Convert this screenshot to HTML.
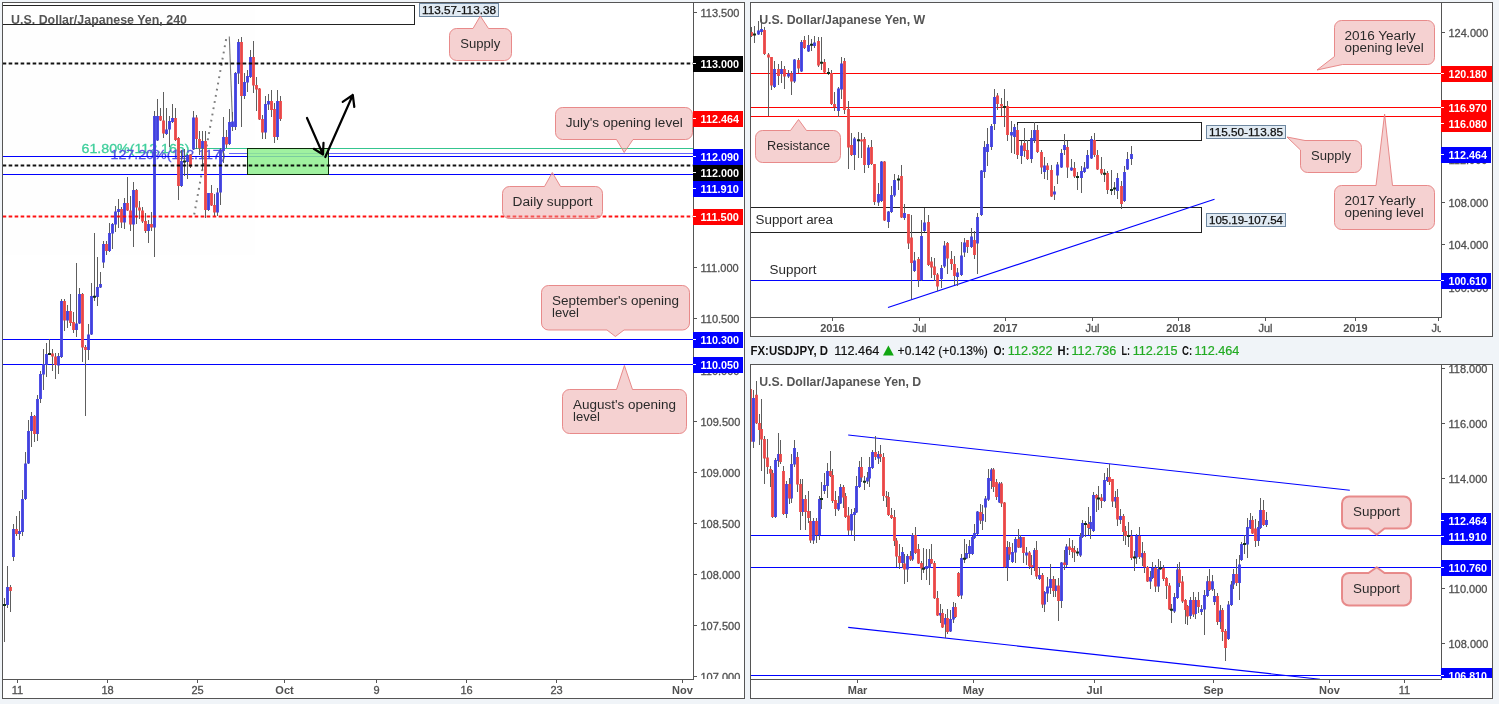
<!DOCTYPE html><html><head><meta charset="utf-8"><title>USDJPY</title>
<style>html,body{margin:0;padding:0;background:#f0f4f8;}svg{display:block;font-family:"Liberation Sans",sans-serif;opacity:0.9999;will-change:transform;}</style></head><body>
<svg width="1499" height="704" viewBox="0 0 1499 704" font-family="Liberation Sans, sans-serif">
<rect x="0" y="0" width="1499" height="704" fill="#f0f4f8"/>
<rect x="2.5" y="2.5" width="742" height="696" fill="#fff" stroke="#555555" stroke-width="1" shape-rendering="crispEdges"/>
<clipPath id="cl"><rect x="3" y="3" width="690" height="676"/></clipPath>
<clipPath id="cla"><rect x="693" y="3" width="51" height="676"/></clipPath>
<g clip-path="url(#cl)">
<rect x="2.5" y="5.5" width="412" height="19" fill="none" stroke="#222" stroke-width="1" shape-rendering="crispEdges"/>
<text x="81.5" y="152.7" font-size="12" fill="#3fcf9c" text-anchor="start" textLength="108" lengthAdjust="spacingAndGlyphs" stroke="#3fcf9c" stroke-width="0.3">61.80%(112.166)</text>
<text x="110.5" y="158.8" font-size="12" fill="#5555e2" text-anchor="start" textLength="115" lengthAdjust="spacingAndGlyphs" stroke="#5555e2" stroke-width="0.3">127.20%(112.117)</text>
<line x1="194" y1="148.5" x2="693" y2="148.5" stroke="#34c58f" stroke-width="1" shape-rendering="crispEdges"/>
<line x1="229" y1="153.5" x2="693" y2="153.5" stroke="#3030ff" stroke-width="1" shape-rendering="crispEdges" stroke-opacity="0.75"/>
<line x1="2" y1="156.5" x2="693" y2="156.5" stroke="#0000ff" stroke-width="1" shape-rendering="crispEdges"/>
<line x1="2" y1="174.5" x2="693" y2="174.5" stroke="#0000ff" stroke-width="1" shape-rendering="crispEdges"/>
<line x1="2" y1="339.5" x2="693" y2="339.5" stroke="#0000ff" stroke-width="1" shape-rendering="crispEdges"/>
<line x1="2" y1="364.5" x2="693" y2="364.5" stroke="#0000ff" stroke-width="1" shape-rendering="crispEdges"/>
<rect x="247.5" y="148.5" width="81" height="26" fill="#8ff08f" fill-opacity="0.85" stroke="#0a2a0a" stroke-width="1" shape-rendering="crispEdges"/>
<line x1="194.2" y1="214.5" x2="226.6" y2="36.5" stroke="#7c7c7c" stroke-width="2" stroke-dasharray="1.8 4.5" stroke-linecap="butt"/>
<line x1="229.3" y1="36.5" x2="232.6" y2="125" stroke="#777" stroke-width="1.1"/>
<path d="M4.5 598V642M7.5 566V607.5M10.5 585V611.5M13.5 524V561M16.5 516V536M19.5 511V540M22.5 490V536M25.5 452V500M28.5 420V464M31.5 412V447M34.5 415V442M37.5 395V441M40.5 370.5V402.5M43.5 349V390M46.5 343V376.5M49.5 339V355M52.5 349V371M55.5 352.5V379M58.5 352.5V374M61.5 298.5V358M64.5 299V331M67.5 305V327.5M70.5 294V326M73.5 311.5V333M76.5 263V336.5M79.5 288V324M82.5 293V362M85.5 345V416M88.5 324V359.5M91.5 283V335M94.5 233V301M97.5 257V305.5M100.5 272V288M103.5 241V267.5M106.5 241V255M109.5 223V252M112.5 223V248.5M115.5 206V232M118.5 199V227.5M121.5 207V228M124.5 198V228.5M127.5 177V211M130.5 196V231M133.5 182V246.5M136.5 189V223.5M139.5 201V218.5M142.5 207V223M145.5 213V232.5M148.5 219.5V242.5M151.5 212V231M154.5 111V256.5M157.5 99V141M160.5 107.5V121M163.5 92V138M166.5 108V135M169.5 115.5V147M172.5 104V122.5M175.5 107.5V140.5M178.5 137V199.5M181.5 149.5V186.5M184.5 148.5V175.5M187.5 154V179M190.5 154V168M193.5 111V150M196.5 115V148.5M199.5 131V154.5M202.5 131V170M205.5 131V217.5M208.5 192.5V210.5M211.5 185V206M214.5 194V215.5M217.5 188V215.5M220.5 148V205M223.5 117V163M226.5 130V148M229.5 109V145M232.5 112V130.5M235.5 72V130M238.5 38.5V84M241.5 36.5V127M244.5 73V99M247.5 70V91.5M250.5 50V77.5M253.5 41V93M256.5 77V111M259.5 88V120M262.5 114.5V139M265.5 96V139M268.5 93.5V110M271.5 89.5V117M274.5 103V143M277.5 89.5V140M280.5 96V121" stroke="#5e5e5e" stroke-width="1" fill="none" shape-rendering="crispEdges"/><path d="M6 587h3v18h-3zM12 529h3v28h-3zM18 531h3v3h-3zM21 499h3v33h-3zM24 463.5h3v35.5h-3zM27 431h3v32.5h-3zM30 416h3v15h-3zM36 399h3v35h-3zM39 374h3v25h-3zM42 364h3v10.5h-3zM45 354h3v11h-3zM57 356h3v9.5h-3zM60 301h3v56h-3zM66 311h3v9.5h-3zM75 323.5h3v6.5h-3zM78 294h3v29.5h-3zM87 334.5h3v15.5h-3zM90 296h3v38.5h-3zM96 287h3v10h-3zM99 284h3v3.5h-3zM102 244h3v18.5h-3zM108 233h3v18h-3zM111 224h3v9.5h-3zM114 211.5h3v13h-3zM117 209h3v3h-3zM123 203h3v19.5h-3zM132 190h3v34.5h-3zM147 224h3v7h-3zM153 116h3v111.5h-3zM156 116h3v24.5h-3zM165 129.5h3v4.5h-3zM168 121h3v8.5h-3zM171 118h3v4h-3zM180 161h3v25h-3zM186 155h3v7h-3zM192 117.5h3v32h-3zM201 141h3v7.5h-3zM207 193h3v17h-3zM216 192.5h3v20h-3zM219 149.5h3v43h-3zM222 137h3v14h-3zM228 122h3v22h-3zM231 121.5h3v5.5h-3zM234 73h3v54h-3zM237 42h3v31.5h-3zM243 82h3v14h-3zM246 76h3v6.5h-3zM249 57h3v20h-3zM264 104h3v28.5h-3zM267 101h3v3.5h-3zM276 101h3v36h-3z" fill="#4040e4" fill-opacity="0.92"/><path d="M9 587h3v4h-3zM15 529h3v5h-3zM33 416h3v18h-3zM51 353.5h3v3h-3zM54 356.5h3v8.5h-3zM63 301h3v19.5h-3zM69 311h3v12h-3zM72 322h3v8h-3zM81 294h3v53.5h-3zM84 347h3v3h-3zM105 244h3v7h-3zM120 209h3v13.5h-3zM126 203h3v7.5h-3zM129 210.5h3v14h-3zM135 190h3v17.5h-3zM138 207.5h3v3h-3zM141 210.5h3v11h-3zM144 221h3v10h-3zM150 224h3v3.5h-3zM159 116h3v4.5h-3zM162 120.5h3v13h-3zM174 118h3v22h-3zM177 138h3v48h-3zM189 154.5h3v12h-3zM195 117.5h3v21.5h-3zM198 139h3v9.5h-3zM204 141h3v69h-3zM210 193h3v12.5h-3zM213 205h3v7.5h-3zM225 137h3v7.5h-3zM240 42h3v54h-3zM252 57h3v28.5h-3zM255 85h3v4.5h-3zM258 88.5h3v31h-3zM261 119h3v13.5h-3zM270 101h3v9h-3zM273 109h3v28h-3zM279 101h3v18h-3z" fill="#f04848" fill-opacity="0.92"/><path d="M3 604h3v2h-3zM48 353h3v2h-3zM93 295.8h3v2h-3zM183 160.5h3v2h-3z" fill="#12301a"/>
<line x1="2.65" y1="63.45" x2="693" y2="63.45" stroke="#000" stroke-width="2" stroke-dasharray="3.6 2.4" stroke-opacity="0.93"/>
<line x1="2.65" y1="165.45" x2="693" y2="165.45" stroke="#000" stroke-width="2" stroke-dasharray="3.6 2.4" stroke-opacity="0.93"/>
<line x1="2.65" y1="216.4" x2="693" y2="216.4" stroke="#ff0000" stroke-width="2" stroke-dasharray="3.6 2.4" stroke-opacity="0.93"/>
<g stroke="#000" stroke-width="2.2" fill="none" stroke-linecap="round" stroke-linejoin="round">
<path d="M307 118 L323 154.5 M313.8 148.8 L323 154.5 L323.5 142.8"/>
<path d="M325.3 157 L352.8 95 M342.7 101.8 L352.8 95 L354.3 107"/>
</g>
</g>
<rect x="693" y="2" width="1" height="678" fill="#555555"/>
<rect x="2" y="679" width="692" height="1" fill="#555555"/>
<g clip-path="url(#cla)">
<rect x="694" y="12" width="3" height="1" fill="#555555"/><text x="700.5" y="17" font-size="11" fill="#505050" text-anchor="start" stroke="#505050" stroke-width="0.3">113.500</text>
<rect x="694" y="63" width="3" height="1" fill="#555555"/><text x="700.5" y="68" font-size="11" fill="#505050" text-anchor="start" stroke="#505050" stroke-width="0.3">113.000</text>
<rect x="694" y="165" width="3" height="1" fill="#555555"/><text x="700.5" y="170" font-size="11" fill="#505050" text-anchor="start" stroke="#505050" stroke-width="0.3">112.000</text>
<rect x="694" y="216" width="3" height="1" fill="#555555"/><text x="700.5" y="221" font-size="11" fill="#505050" text-anchor="start" stroke="#505050" stroke-width="0.3">111.500</text>
<rect x="694" y="267" width="3" height="1" fill="#555555"/><text x="700.5" y="272" font-size="11" fill="#505050" text-anchor="start" stroke="#505050" stroke-width="0.3">111.000</text>
<rect x="694" y="318" width="3" height="1" fill="#555555"/><text x="700.5" y="323" font-size="11" fill="#505050" text-anchor="start" stroke="#505050" stroke-width="0.3">110.500</text>
<rect x="694" y="370" width="3" height="1" fill="#555555"/><text x="700.5" y="375" font-size="11" fill="#505050" text-anchor="start" stroke="#505050" stroke-width="0.3">110.000</text>
<rect x="694" y="421" width="3" height="1" fill="#555555"/><text x="700.5" y="426" font-size="11" fill="#505050" text-anchor="start" stroke="#505050" stroke-width="0.3">109.500</text>
<rect x="694" y="472" width="3" height="1" fill="#555555"/><text x="700.5" y="477" font-size="11" fill="#505050" text-anchor="start" stroke="#505050" stroke-width="0.3">109.000</text>
<rect x="694" y="523" width="3" height="1" fill="#555555"/><text x="700.5" y="528" font-size="11" fill="#505050" text-anchor="start" stroke="#505050" stroke-width="0.3">108.500</text>
<rect x="694" y="574" width="3" height="1" fill="#555555"/><text x="700.5" y="579" font-size="11" fill="#505050" text-anchor="start" stroke="#505050" stroke-width="0.3">108.000</text>
<rect x="694" y="625" width="3" height="1" fill="#555555"/><text x="700.5" y="630" font-size="11" fill="#505050" text-anchor="start" stroke="#505050" stroke-width="0.3">107.500</text>
<rect x="694" y="676" width="3" height="1" fill="#555555"/><text x="700.5" y="681" font-size="11" fill="#505050" text-anchor="start" stroke="#505050" stroke-width="0.3">107.000</text>
<rect x="693" y="56" width="50" height="16" fill="#000"/><rect x="693" y="63" width="3" height="1" fill="#fff"/><text x="700.5" y="68" font-size="11" fill="#fff" font-weight="bold" text-anchor="start" textLength="38.4" lengthAdjust="spacingAndGlyphs" >113.000</text>
<rect x="693" y="111" width="50" height="16" fill="#ff0000"/><rect x="693" y="118" width="3" height="1" fill="#fff"/><text x="700.5" y="123" font-size="11" fill="#fff" font-weight="bold" text-anchor="start" textLength="38.4" lengthAdjust="spacingAndGlyphs" >112.464</text>
<rect x="693" y="149" width="50" height="16" fill="#0000ff"/><rect x="693" y="156" width="3" height="1" fill="#fff"/><text x="700.5" y="161" font-size="11" fill="#fff" font-weight="bold" text-anchor="start" textLength="38.4" lengthAdjust="spacingAndGlyphs" >112.090</text>
<rect x="693" y="165" width="50" height="16" fill="#000"/><rect x="693" y="172" width="3" height="1" fill="#fff"/><text x="700.5" y="177" font-size="11" fill="#fff" font-weight="bold" text-anchor="start" textLength="38.4" lengthAdjust="spacingAndGlyphs" >112.000</text>
<rect x="693" y="181" width="50" height="16" fill="#0000ff"/><rect x="693" y="188" width="3" height="1" fill="#fff"/><text x="700.5" y="193" font-size="11" fill="#fff" font-weight="bold" text-anchor="start" textLength="38.4" lengthAdjust="spacingAndGlyphs" >111.910</text>
<rect x="693" y="209" width="50" height="16" fill="#ff0000"/><rect x="693" y="216" width="3" height="1" fill="#fff"/><text x="700.5" y="221" font-size="11" fill="#fff" font-weight="bold" text-anchor="start" textLength="38.4" lengthAdjust="spacingAndGlyphs" >111.500</text>
<rect x="693" y="332" width="50" height="16" fill="#0000ff"/><rect x="693" y="339" width="3" height="1" fill="#fff"/><text x="700.5" y="344" font-size="11" fill="#fff" font-weight="bold" text-anchor="start" textLength="38.4" lengthAdjust="spacingAndGlyphs" >110.300</text>
<rect x="693" y="357" width="50" height="16" fill="#0000ff"/><rect x="693" y="364" width="3" height="1" fill="#fff"/><text x="700.5" y="369" font-size="11" fill="#fff" font-weight="bold" text-anchor="start" textLength="38.4" lengthAdjust="spacingAndGlyphs" >110.050</text>
</g>
<rect x="17" y="680" width="1" height="3" fill="#555555"/>
<text x="17.5" y="693.6" font-size="11" fill="#505050" text-anchor="middle" stroke="#505050" stroke-width="0.3">11</text>
<rect x="107" y="680" width="1" height="3" fill="#555555"/>
<text x="107.5" y="693.6" font-size="11" fill="#505050" text-anchor="middle" stroke="#505050" stroke-width="0.3">18</text>
<rect x="197" y="680" width="1" height="3" fill="#555555"/>
<text x="197.5" y="693.6" font-size="11" fill="#505050" text-anchor="middle" stroke="#505050" stroke-width="0.3">25</text>
<rect x="284" y="680" width="1" height="3" fill="#555555"/>
<text x="284.5" y="693.6" font-size="11" fill="#505050" font-weight="bold" text-anchor="middle" >Oct</text>
<rect x="376" y="680" width="1" height="3" fill="#555555"/>
<text x="376.5" y="693.6" font-size="11" fill="#505050" text-anchor="middle" stroke="#505050" stroke-width="0.3">9</text>
<rect x="466" y="680" width="1" height="3" fill="#555555"/>
<text x="466.5" y="693.6" font-size="11" fill="#505050" text-anchor="middle" stroke="#505050" stroke-width="0.3">16</text>
<rect x="556" y="680" width="1" height="3" fill="#555555"/>
<text x="556.5" y="693.6" font-size="11" fill="#505050" text-anchor="middle" stroke="#505050" stroke-width="0.3">23</text>
<rect x="682" y="680" width="1" height="3" fill="#555555"/>
<text x="682.5" y="693.6" font-size="11" fill="#505050" font-weight="bold" text-anchor="middle" >Nov</text>
<text x="11" y="23.5" font-size="12.5" fill="#555" font-weight="bold" text-anchor="start" textLength="176" lengthAdjust="spacingAndGlyphs" >U.S. Dollar/Japanese Yen, 240</text>
<rect x="419.5" y="3.5" width="79" height="13" fill="#e0eaf3" stroke="#6e87a0" stroke-width="1" shape-rendering="crispEdges"/><text x="422" y="13.6" font-size="10" fill="#111" text-anchor="start" textLength="74" lengthAdjust="spacingAndGlyphs" stroke="#111" stroke-width="0.25">113.57-113.38</text>
<path d="M456.5 28.5H473 L480.3 16 L488.5 28.5H504.5 A7 7 0 0 1 511.5 35.5V53.5 A7 7 0 0 1 504.5 60.5H456.5 A7 7 0 0 1 449.5 53.5V35.5 A7 7 0 0 1 456.5 28.5 Z" fill="#ea9f9f" fill-opacity="0.48" stroke="#e67f7f" stroke-opacity="0.9" stroke-width="1" stroke-linejoin="round"/><text x="460.3" y="48" font-size="12" fill="#2a2a2a" text-anchor="start" textLength="40" lengthAdjust="spacingAndGlyphs" >Supply</text>
<path d="M562.5 107.5H685.5 A7 7 0 0 1 692.5 114.5V132.5 A7 7 0 0 1 685.5 139.5H633 L624.2 152.5 L616.5 139.5H562.5 A7 7 0 0 1 555.5 132.5V114.5 A7 7 0 0 1 562.5 107.5 Z" fill="#ea9f9f" fill-opacity="0.48" stroke="#e67f7f" stroke-opacity="0.9" stroke-width="1" stroke-linejoin="round"/><text x="565.7" y="127.3" font-size="12" fill="#2a2a2a" text-anchor="start" textLength="117" lengthAdjust="spacingAndGlyphs" >July's opening level</text>
<path d="M509.5 186.5H544.5 L552.3 172.5 L560.5 186.5H595.5 A7 7 0 0 1 602.5 193.5V211.5 A7 7 0 0 1 595.5 218.5H509.5 A7 7 0 0 1 502.5 211.5V193.5 A7 7 0 0 1 509.5 186.5 Z" fill="#ea9f9f" fill-opacity="0.48" stroke="#e67f7f" stroke-opacity="0.9" stroke-width="1" stroke-linejoin="round"/><text x="512.6" y="206" font-size="12" fill="#2a2a2a" text-anchor="start" textLength="80" lengthAdjust="spacingAndGlyphs" >Daily support</text>
<path d="M548.5 285.5H682.5 A7 7 0 0 1 689.5 292.5V323 A7 7 0 0 1 682.5 330H624 L615.4 336.5 L607 330H548.5 A7 7 0 0 1 541.5 323V292.5 A7 7 0 0 1 548.5 285.5 Z" fill="#ea9f9f" fill-opacity="0.48" stroke="#e67f7f" stroke-opacity="0.9" stroke-width="1" stroke-linejoin="round"/><text x="552" y="304.5" font-size="12" fill="#2a2a2a" text-anchor="start" textLength="127" lengthAdjust="spacingAndGlyphs" >September's opening</text><text x="552" y="316.5" font-size="12" fill="#2a2a2a" text-anchor="start" textLength="27" lengthAdjust="spacingAndGlyphs" >level</text>
<path d="M569.5 389.5H616.5 L624.4 365.5 L632.5 389.5H679.5 A7 7 0 0 1 686.5 396.5V426.5 A7 7 0 0 1 679.5 433.5H569.5 A7 7 0 0 1 562.5 426.5V396.5 A7 7 0 0 1 569.5 389.5 Z" fill="#ea9f9f" fill-opacity="0.48" stroke="#e67f7f" stroke-opacity="0.9" stroke-width="1" stroke-linejoin="round"/><text x="573" y="408.5" font-size="12" fill="#2a2a2a" text-anchor="start" textLength="103" lengthAdjust="spacingAndGlyphs" >August's opening</text><text x="573" y="420.5" font-size="12" fill="#2a2a2a" text-anchor="start" textLength="27" lengthAdjust="spacingAndGlyphs" >level</text>
<rect x="750.5" y="2.5" width="742" height="334" fill="#fff" stroke="#555555" stroke-width="1" shape-rendering="crispEdges"/>
<clipPath id="cw"><rect x="751" y="3" width="690" height="314"/></clipPath>
<clipPath id="cwa"><rect x="1441" y="3" width="52" height="314"/></clipPath>
<g clip-path="url(#cw)">
<line x1="750" y1="73.5" x2="1441" y2="73.5" stroke="#ff0000" stroke-width="1" shape-rendering="crispEdges"/>
<line x1="750" y1="107.5" x2="1441" y2="107.5" stroke="#ff0000" stroke-width="1" shape-rendering="crispEdges"/>
<line x1="750" y1="116.5" x2="1441" y2="116.5" stroke="#ff0000" stroke-width="1" shape-rendering="crispEdges"/>
<line x1="750" y1="280.5" x2="1441" y2="280.5" stroke="#0000ff" stroke-width="1" shape-rendering="crispEdges"/>
<rect x="1017.5" y="122.5" width="184" height="18" fill="none" stroke="#222" stroke-width="1" shape-rendering="crispEdges"/>
<rect x="749.5" y="207.5" width="452" height="25" fill="none" stroke="#222" stroke-width="1" shape-rendering="crispEdges"/>
<line x1="888" y1="307.5" x2="1214.5" y2="199.3" stroke="#0000ff" stroke-width="1.15"/>
<path d="M751.5 27V37M754.5 26V42.6M758.5 21V35M761.5 19V35M764.5 27V55M768.5 52.5V115.5M771.5 56.5V90M774.5 61V87.5M778.5 64V84.5M781.5 61V83M784.5 65.5V89M788.5 69.5V78M791.5 71V95M794.5 59V82.5M798.5 58V72.5M801.5 39.5V72M804.5 36V48.5M808.5 35V52M811.5 38.5V50.5M814.5 36V47.5M818.5 37V67M821.5 37V70M824.5 59V73M828.5 68V75M831.5 70V105M834.5 92V111M838.5 87V116.5M841.5 57V99M844.5 58V113.5M848.5 101V169M851.5 132.5V155.5M854.5 137V170M858.5 132V158M861.5 132.5V157.5M864.5 137V173M868.5 144.5V167.5M871.5 140V164.5M874.5 163.5V204.5M878.5 183V205.5M881.5 161V202M884.5 161V221M888.5 211V228M891.5 185.5V213M894.5 174V196.5M898.5 174.5V190M901.5 165V218M904.5 203.5V220M908.5 213.5V249M911.5 214.5V299M914.5 251.5V272M918.5 257V287M921.5 220V281M924.5 207.5V231.5M928.5 214.5V265.5M931.5 257V278M934.5 258V281M937.5 272.5V290.5M941.5 265V288M944.5 241V267.5M947.5 242V273.5M951.5 251V270M954.5 256V284.5M957.5 267.5V286M961.5 241.5V275.5M964.5 237.5V257M967.5 239.5V253M971.5 228V248M974.5 231V259M977.5 213V273.5M981.5 170V215.5M984.5 140.5V178M987.5 128V165.5M991.5 123.5V150M994.5 88.5V129.5M997.5 93V110M1001.5 98V116M1004.5 88.5V127M1007.5 100.5V141M1011.5 121V152.5M1014.5 123.5V153.5M1017.5 124.5V159M1021.5 140.5V164M1024.5 128V157M1027.5 140V160M1031.5 130V162.5M1034.5 121.5V143M1037.5 124.5V152.5M1041.5 150V173.5M1044.5 157V179M1047.5 163V180M1051.5 164.5V197M1054.5 186V200M1057.5 162V184M1061.5 149V168M1064.5 134V155M1067.5 140.5V178M1071.5 158.5V171M1074.5 162V178M1077.5 172V190M1081.5 165.5V193M1084.5 162V172.5M1087.5 150V169M1091.5 136V159M1094.5 133V157M1097.5 150V170M1101.5 157V175M1104.5 169V182M1107.5 170.5V194M1111.5 170V195M1114.5 182V195M1117.5 173V199M1121.5 181V209M1124.5 166V201.5M1127.5 152V170M1131.5 146V165" stroke="#5e5e5e" stroke-width="1" fill="none" shape-rendering="crispEdges"/><path d="M757 30.5h3v4h-3zM760 29h3v3h-3zM773 69h3v18h-3zM780 69h3v5h-3zM787 73.5h3v3h-3zM793 59.5h3v22h-3zM800 42h3v29.5h-3zM807 45h3v6.5h-3zM813 42.5h3v3.5h-3zM837 88.5h3v22.5h-3zM840 63.5h3v26h-3zM853 138.5h3v16.5h-3zM867 147.5h3v17.5h-3zM877 194h3v8.5h-3zM880 161.5h3v39.5h-3zM887 211.5h3v10.5h-3zM890 195h3v17h-3zM893 180h3v15.5h-3zM903 213h3v5h-3zM913 260.5h3v10.5h-3zM920 236h3v44h-3zM923 222.5h3v8.5h-3zM940 268h3v11h-3zM943 245.5h3v21h-3zM956 272.5h3v4.5h-3zM960 255.5h3v19.5h-3zM963 242.5h3v10h-3zM970 236.5h3v10.5h-3zM976 217h3v26.5h-3zM980 170.5h3v44.5h-3zM983 147h3v25h-3zM986 144h3v8h-3zM990 126h3v21h-3zM993 97h3v27h-3zM1010 132h3v3.5h-3zM1013 127h3v10h-3zM1020 145.5h3v10.5h-3zM1030 138h3v21h-3zM1033 130h3v10.5h-3zM1043 165.5h3v6.5h-3zM1053 191.5h3v3h-3zM1056 164.5h3v11h-3zM1060 153h3v14.5h-3zM1063 145h3v5h-3zM1070 167.5h3v3h-3zM1080 171h3v7h-3zM1083 167.5h3v4.5h-3zM1086 155h3v13.5h-3zM1090 139h3v19.5h-3zM1116 178h3v13h-3zM1123 172h3v29h-3zM1126 159h3v10.5h-3zM1130 154h3v5h-3z" fill="#4040e4" fill-opacity="0.92"/><path d="M750 32h3v4h-3zM763 30h3v24h-3zM767 54.5h3v3h-3zM770 57h3v28.5h-3zM777 69h3v7h-3zM783 69h3v7.5h-3zM790 73.5h3v8h-3zM797 60h3v8.5h-3zM803 40h3v8h-3zM817 41h3v24.5h-3zM823 62h3v10.5h-3zM830 73h3v31h-3zM833 104h3v3h-3zM843 61h3v49h-3zM847 109h3v38.5h-3zM850 145h3v10h-3zM860 139.5h3v2h-3zM863 139h3v26h-3zM870 147h3v17h-3zM873 164h3v38h-3zM883 161.5h3v59h-3zM900 176h3v41.5h-3zM907 214h3v29.5h-3zM910 237.5h3v25.5h-3zM917 259h3v21h-3zM927 222h3v43h-3zM930 261.5h3v6h-3zM933 266.5h3v8.5h-3zM936 274.5h3v12h-3zM946 243h3v15.5h-3zM950 259h3v5h-3zM953 264h3v12h-3zM966 240h3v7h-3zM973 240h3v15h-3zM996 95.5h3v8.5h-3zM1000 104h3v2.5h-3zM1006 106h3v29h-3zM1016 130h3v25h-3zM1023 143h3v8h-3zM1026 150h3v9h-3zM1036 130h3v22h-3zM1040 152h3v15.5h-3zM1046 165.5h3v4.5h-3zM1050 170h3v26.5h-3zM1066 147h3v20.5h-3zM1073 168h3v8.5h-3zM1093 140h3v15h-3zM1096 155h3v14.5h-3zM1100 169h3v4.5h-3zM1106 173h3v17h-3zM1120 186h3v18h-3z" fill="#f04848" fill-opacity="0.92"/><path d="M753 33.5h3v2h-3zM810 43.8h3v2h-3zM820 61.7h3v2h-3zM827 72h3v2h-3zM857 139.3h3v2h-3zM897 178.5h3v2h-3zM1003 106h3v2h-3zM1076 176h3v2h-3zM1103 172.7h3v2h-3zM1110 188.9h3v2h-3zM1113 187.5h3v2h-3z" fill="#12301a"/>
</g>
<rect x="1441" y="2" width="1" height="316" fill="#555555"/>
<rect x="750" y="317" width="692" height="1" fill="#555555"/>
<g clip-path="url(#cwa)">
<rect x="1442" y="32" width="3" height="1" fill="#555555"/><text x="1448.5" y="37" font-size="11" fill="#505050" text-anchor="start" stroke="#505050" stroke-width="0.3">124.000</text>
<rect x="1442" y="74" width="3" height="1" fill="#555555"/><text x="1448.5" y="79" font-size="11" fill="#505050" text-anchor="start" stroke="#505050" stroke-width="0.3">120.000</text>
<rect x="1442" y="117" width="3" height="1" fill="#555555"/><text x="1448.5" y="122" font-size="11" fill="#505050" text-anchor="start" stroke="#505050" stroke-width="0.3">116.000</text>
<rect x="1442" y="159" width="3" height="1" fill="#555555"/><text x="1448.5" y="164" font-size="11" fill="#505050" text-anchor="start" stroke="#505050" stroke-width="0.3">112.000</text>
<rect x="1442" y="202" width="3" height="1" fill="#555555"/><text x="1448.5" y="207" font-size="11" fill="#505050" text-anchor="start" stroke="#505050" stroke-width="0.3">108.000</text>
<rect x="1442" y="244" width="3" height="1" fill="#555555"/><text x="1448.5" y="249" font-size="11" fill="#505050" text-anchor="start" stroke="#505050" stroke-width="0.3">104.000</text>
<rect x="1442" y="287" width="3" height="1" fill="#555555"/><text x="1448.5" y="292" font-size="11" fill="#505050" text-anchor="start" stroke="#505050" stroke-width="0.3">100.000</text>
<rect x="1441" y="66" width="51" height="16" fill="#ff0000"/><rect x="1441" y="73" width="3" height="1" fill="#fff"/><text x="1448.5" y="78" font-size="11" fill="#fff" font-weight="bold" text-anchor="start" textLength="38.4" lengthAdjust="spacingAndGlyphs" >120.180</text>
<rect x="1441" y="100" width="50" height="16" fill="#ff0000"/><rect x="1441" y="107" width="3" height="1" fill="#fff"/><text x="1448.5" y="112" font-size="11" fill="#fff" font-weight="bold" text-anchor="start" textLength="38.4" lengthAdjust="spacingAndGlyphs" >116.970</text>
<rect x="1441" y="116" width="50" height="16" fill="#ff0000"/><rect x="1441" y="123" width="3" height="1" fill="#fff"/><text x="1448.5" y="128" font-size="11" fill="#fff" font-weight="bold" text-anchor="start" textLength="38.4" lengthAdjust="spacingAndGlyphs" >116.080</text>
<rect x="1441" y="147" width="50" height="16" fill="#0000ff"/><rect x="1441" y="154" width="3" height="1" fill="#fff"/><text x="1448.5" y="159" font-size="11" fill="#fff" font-weight="bold" text-anchor="start" textLength="38.4" lengthAdjust="spacingAndGlyphs" >112.464</text>
<rect x="1441" y="273" width="50" height="16" fill="#0000ff"/><rect x="1441" y="280" width="3" height="1" fill="#fff"/><text x="1448.5" y="285" font-size="11" fill="#fff" font-weight="bold" text-anchor="start" textLength="38.4" lengthAdjust="spacingAndGlyphs" >100.610</text>
</g>
<clipPath id="cwt"><rect x="751" y="318" width="690" height="18"/></clipPath><g clip-path="url(#cwt)">
<rect x="832" y="318" width="1" height="3" fill="#555555"/>
<text x="832.5" y="331.6" font-size="11" fill="#505050" font-weight="bold" text-anchor="middle" >2016</text>
<rect x="919" y="318" width="1" height="3" fill="#555555"/>
<text x="919.5" y="331.6" font-size="11" fill="#505050" text-anchor="middle" stroke="#505050" stroke-width="0.3">Jul</text>
<rect x="1005" y="318" width="1" height="3" fill="#555555"/>
<text x="1005.5" y="331.6" font-size="11" fill="#505050" font-weight="bold" text-anchor="middle" >2017</text>
<rect x="1092" y="318" width="1" height="3" fill="#555555"/>
<text x="1092.5" y="331.6" font-size="11" fill="#505050" text-anchor="middle" stroke="#505050" stroke-width="0.3">Jul</text>
<rect x="1178" y="318" width="1" height="3" fill="#555555"/>
<text x="1178.5" y="331.6" font-size="11" fill="#505050" font-weight="bold" text-anchor="middle" >2018</text>
<rect x="1265" y="318" width="1" height="3" fill="#555555"/>
<text x="1265.5" y="331.6" font-size="11" fill="#505050" text-anchor="middle" stroke="#505050" stroke-width="0.3">Jul</text>
<rect x="1355" y="318" width="1" height="3" fill="#555555"/>
<text x="1355.5" y="331.6" font-size="11" fill="#505050" font-weight="bold" text-anchor="middle" >2019</text>
<rect x="1438" y="318" width="1" height="3" fill="#555555"/>
<text x="1438.5" y="331.6" font-size="11" fill="#505050" text-anchor="middle" stroke="#505050" stroke-width="0.3">Jul</text>
</g>
<text x="759.2" y="23.5" font-size="12.5" fill="#555" font-weight="bold" text-anchor="start" textLength="166" lengthAdjust="spacingAndGlyphs" >U.S. Dollar/Japanese Yen, W</text>
<text x="755.5" y="223.5" font-size="12" fill="#2a2a2a" text-anchor="start" textLength="77.5" lengthAdjust="spacingAndGlyphs" >Support area</text>
<text x="769.5" y="273.5" font-size="12" fill="#2a2a2a" text-anchor="start" textLength="47" lengthAdjust="spacingAndGlyphs" >Support</text>
<rect x="1206.5" y="125.5" width="79" height="13" fill="#e0eaf3" stroke="#6e87a0" stroke-width="1" shape-rendering="crispEdges"/><text x="1209" y="135.6" font-size="10" fill="#111" text-anchor="start" textLength="74" lengthAdjust="spacingAndGlyphs" stroke="#111" stroke-width="0.25">115.50-113.85</text>
<rect x="1206.5" y="213.5" width="79" height="13" fill="#e0eaf3" stroke="#6e87a0" stroke-width="1" shape-rendering="crispEdges"/><text x="1209" y="223.6" font-size="10" fill="#111" text-anchor="start" textLength="74" lengthAdjust="spacingAndGlyphs" stroke="#111" stroke-width="0.25">105.19-107.54</text>
<path d="M762.5 130.5H790.5 L798.5 119.5 L806.5 130.5H833.5 A7 7 0 0 1 840.5 137.5V155.5 A7 7 0 0 1 833.5 162.5H762.5 A7 7 0 0 1 755.5 155.5V137.5 A7 7 0 0 1 762.5 130.5 Z" fill="#ea9f9f" fill-opacity="0.48" stroke="#e67f7f" stroke-opacity="0.9" stroke-width="1" stroke-linejoin="round"/><text x="767" y="150" font-size="12" fill="#2a2a2a" text-anchor="start" textLength="63" lengthAdjust="spacingAndGlyphs" >Resistance</text>
<path d="M1341.5 20.5H1427.5 A7 7 0 0 1 1434.5 27.5V57.5 A7 7 0 0 1 1427.5 64.5H1342.5 L1317 70 L1334.5 56.5V27.5 A7 7 0 0 1 1341.5 20.5 Z" fill="#ea9f9f" fill-opacity="0.48" stroke="#e67f7f" stroke-opacity="0.9" stroke-width="1" stroke-linejoin="round"/><text x="1344.5" y="40" font-size="12" fill="#2a2a2a" text-anchor="start" textLength="71" lengthAdjust="spacingAndGlyphs" >2016 Yearly</text><text x="1344.5" y="52" font-size="12" fill="#2a2a2a" text-anchor="start" textLength="79.3" lengthAdjust="spacingAndGlyphs" >opening level</text>
<path d="M1305 140.5H1354.5 A7 7 0 0 1 1361.5 147.5V165.5 A7 7 0 0 1 1354.5 172.5H1307.5 A7 7 0 0 1 1300.5 165.5V150 L1287 137 Z" fill="#ea9f9f" fill-opacity="0.48" stroke="#e67f7f" stroke-opacity="0.9" stroke-width="1" stroke-linejoin="round"/><text x="1311" y="159.7" font-size="12" fill="#2a2a2a" text-anchor="start" textLength="40" lengthAdjust="spacingAndGlyphs" >Supply</text>
<path d="M1341.5 185.5H1376 L1384.6 114 L1392.5 185.5H1427.5 A7 7 0 0 1 1434.5 192.5V222.5 A7 7 0 0 1 1427.5 229.5H1341.5 A7 7 0 0 1 1334.5 222.5V192.5 A7 7 0 0 1 1341.5 185.5 Z" fill="#ea9f9f" fill-opacity="0.48" stroke="#e67f7f" stroke-opacity="0.9" stroke-width="1" stroke-linejoin="round"/><text x="1344.5" y="204.5" font-size="12" fill="#2a2a2a" text-anchor="start" textLength="71" lengthAdjust="spacingAndGlyphs" >2017 Yearly</text><text x="1344.5" y="216.5" font-size="12" fill="#2a2a2a" text-anchor="start" textLength="79.3" lengthAdjust="spacingAndGlyphs" >opening level</text>
<text x="750.5" y="354.7" font-size="12" fill="#111" font-weight="bold" text-anchor="start" textLength="77.5" lengthAdjust="spacingAndGlyphs" >FX:USDJPY, D</text>
<text x="834.3" y="354.7" font-size="12" fill="#111" text-anchor="start" textLength="45" lengthAdjust="spacingAndGlyphs" stroke="#111" stroke-width="0.2">112.464</text>
<path d="M883 355.6 L888.4 345.4 L893.8 355.6 Z" fill="#11a611"/>
<text x="897.6" y="354.7" font-size="12" fill="#111" text-anchor="start" textLength="90.2" lengthAdjust="spacingAndGlyphs" stroke="#111" stroke-width="0.2">+0.142 (+0.13%)</text>
<text x="993.4" y="354.7" font-size="12" fill="#111" font-weight="bold" text-anchor="start" textLength="11.5" lengthAdjust="spacingAndGlyphs" >O:</text>
<text x="1007.8" y="354.7" font-size="12" fill="#22ab22" text-anchor="start" textLength="44.8" lengthAdjust="spacingAndGlyphs" stroke="#22ab22" stroke-width="0.2">112.322</text>
<text x="1057.6" y="354.7" font-size="12" fill="#111" font-weight="bold" text-anchor="start" textLength="11.8" lengthAdjust="spacingAndGlyphs" >H:</text>
<text x="1071.5" y="354.7" font-size="12" fill="#22ab22" text-anchor="start" textLength="44.8" lengthAdjust="spacingAndGlyphs" stroke="#22ab22" stroke-width="0.2">112.736</text>
<text x="1121.4" y="354.7" font-size="12" fill="#111" font-weight="bold" text-anchor="start" textLength="8.6" lengthAdjust="spacingAndGlyphs" >L:</text>
<text x="1132.7" y="354.7" font-size="12" fill="#22ab22" text-anchor="start" textLength="44.8" lengthAdjust="spacingAndGlyphs" stroke="#22ab22" stroke-width="0.2">112.215</text>
<text x="1182" y="354.7" font-size="12" fill="#111" font-weight="bold" text-anchor="start" textLength="10.2" lengthAdjust="spacingAndGlyphs" >C:</text>
<text x="1194.6" y="354.7" font-size="12" fill="#22ab22" text-anchor="start" textLength="44.8" lengthAdjust="spacingAndGlyphs" stroke="#22ab22" stroke-width="0.2">112.464</text>
<rect x="750.5" y="364.5" width="742" height="334" fill="#fff" stroke="#555555" stroke-width="1" shape-rendering="crispEdges"/>
<clipPath id="cd"><rect x="751" y="365" width="690" height="314"/></clipPath>
<clipPath id="cda"><rect x="1441" y="365" width="51" height="314"/></clipPath>
<g clip-path="url(#cd)">
<line x1="750" y1="535.5" x2="1441" y2="535.5" stroke="#0000ff" stroke-width="1" shape-rendering="crispEdges"/>
<line x1="750" y1="567.5" x2="1441" y2="567.5" stroke="#0000ff" stroke-width="1" shape-rendering="crispEdges"/>
<line x1="750" y1="675.5" x2="1441" y2="675.5" stroke="#0000ff" stroke-width="1" shape-rendering="crispEdges"/>
<line x1="848.2" y1="435" x2="1349.8" y2="490.3" stroke="#0000ff" stroke-width="1.15"/>
<line x1="848.2" y1="627.4" x2="1320" y2="679.2" stroke="#0000ff" stroke-width="1.15"/>
<path d="M750.5 389V442M753.5 390V447.5M756.5 381V424M759.5 413.5V445M761.5 399V471M764.5 436V484M767.5 438.5V473.5M770.5 465.5V487M772.5 470V517.5M775.5 458V517.5M778.5 433V467M780.5 439.5V463.5M783.5 465.5V515M786.5 481V518M789.5 478V504M791.5 454V503M794.5 440V467M797.5 452V492M800.5 478.5V530M802.5 479V515.5M805.5 495V530M808.5 491V522.5M810.5 511V543M813.5 518V544M816.5 518V543M819.5 496V539.5M821.5 482V509M824.5 472.5V493.5M827.5 463V497.5M830.5 451V476.5M832.5 469V502.5M835.5 490.5V515.5M838.5 496V511M840.5 484V504M843.5 485V507.5M845.5 493V518M848.5 506.5V535M851.5 509V535M854.5 507.5V540.5M856.5 476V513M859.5 461V487.5M861.5 457V482M864.5 476V489.5M867.5 472V484M869.5 457V487M872.5 450V468.5M875.5 436V460M878.5 451V463.5M880.5 445V462M883.5 453V501M886.5 491V507M888.5 492V515.5M891.5 508V519M894.5 509.5V545.5M896.5 538V566.5M899.5 544V569M902.5 547V568M904.5 554V584M907.5 554V582M910.5 551V561M912.5 533V561M915.5 527V554M918.5 544V564M921.5 561V579.5M923.5 548V573M926.5 549V580M929.5 549V584.5M931.5 544V564M934.5 561V599M937.5 591V616M940.5 604V622.5M942.5 609V628M945.5 614V638M947.5 609V634M950.5 610V632M953.5 602V622.5M955.5 603V618M958.5 572V597M961.5 554V598.5M964.5 539V563M966.5 544V559M969.5 540V558M972.5 535.5V554.5M974.5 524V539M977.5 511V534.5M980.5 504V524M982.5 505V529.5M985.5 496V522M988.5 468.5V501M991.5 468V489M993.5 468V492M996.5 478.5V499.5M999.5 482V503M1001.5 482V506.5M1004.5 501.5V567.5M1007.5 540.5V580.5M1009.5 541.5V559.5M1012.5 543V563M1015.5 537V563M1018.5 529V548M1020.5 534.5V548M1023.5 536.5V563M1026.5 547V565M1029.5 550.5V569M1031.5 554.5V574.5M1034.5 548V570.5M1036.5 540.5V579M1039.5 567V579.5M1042.5 573V608M1044.5 590.5V612M1047.5 577V601.5M1050.5 564V594M1053.5 575.5V597M1055.5 579V596.5M1058.5 578V621M1061.5 561.5V608M1064.5 549.5V570M1066.5 544V567M1069.5 538V554.5M1072.5 540V558M1074.5 545.5V562M1077.5 548V555.5M1080.5 533V556.5M1082.5 519.5V537.5M1085.5 521V536.5M1088.5 507V534.5M1090.5 516V539M1093.5 492V531.5M1096.5 494V512M1098.5 486V509.5M1101.5 493.5V507.5M1104.5 473V501.5M1107.5 468V482M1109.5 463.5V485M1112.5 478.5V506.5M1115.5 491V508M1117.5 488.5V526M1120.5 509V524M1123.5 513.5V540.5M1125.5 526V545M1128.5 521.5V547M1131.5 530V559.5M1134.5 550.5V570.5M1136.5 534V564M1139.5 527V559M1142.5 541.5V565.5M1144.5 550.5V573M1147.5 565.5V582M1150.5 571V589M1152.5 561.5V579M1155.5 565V591.5M1158.5 559V591.5M1160.5 560.5V569.5M1163.5 565V581M1166.5 577V599M1169.5 583V610M1171.5 604V623M1174.5 593V613M1177.5 564V598.5M1179.5 562V586.5M1182.5 576V603M1185.5 598.5V624M1187.5 605V625M1190.5 596.5V619M1193.5 592V616.5M1195.5 597V619M1198.5 592V613M1201.5 604.5V614.5M1204.5 589.5V634.5M1207.5 575.5V596.5M1209.5 569V590.5M1212.5 574.5V590.5M1214.5 589V604.5M1217.5 592.5V625M1220.5 604.5V629M1222.5 608V640.5M1225.5 629V661M1228.5 600.5V639.5M1231.5 581V605.5M1233.5 568.5V589M1236.5 559V586M1239.5 555V600M1241.5 542V561M1244.5 535V554M1247.5 518V557.5M1250.5 513V529M1252.5 516V534M1255.5 518.5V546.5M1258.5 521V546M1260.5 498V528.5M1263.5 499.5V526M1266.5 512V527" stroke="#5e5e5e" stroke-width="1" fill="none" shape-rendering="crispEdges"/><path d="M752 398h3v43.8h-3zM774 460h3v57h-3zM777 454h3v7h-3zM785 484h3v30h-3zM790 464h3v34.5h-3zM793 448h3v16.5h-3zM801 499h3v13h-3zM812 521h3v19.5h-3zM818 499h3v36h-3zM823 485h3v6h-3zM826 471h3v15h-3zM837 503h3v6.5h-3zM839 487h3v16.5h-3zM850 514h3v16.5h-3zM853 512h3v3h-3zM855 486h3v26.5h-3zM858 467h3v20h-3zM866 477.5h3v4h-3zM868 467h3v11.5h-3zM871 452h3v16h-3zM877 454h3v4.5h-3zM901 552h3v11h-3zM906 556h3v13.5h-3zM911 535h3v24.5h-3zM925 566h3v3h-3zM928 559h3v9h-3zM939 613h3v2.5h-3zM944 618h3v6.5h-3zM949 619h3v12.5h-3zM952 607h3v12.5h-3zM960 558h3v37.5h-3zM965 553h3v5.5h-3zM968 546h3v8h-3zM971 537h3v17h-3zM973 533h3v5h-3zM976 511.5h3v22.5h-3zM981 514h3v6.8h-3zM984 498.5h3v9h-3zM987 478h3v21.7h-3zM990 469.5h3v11.5h-3zM998 483.5h3v19h-3zM1006 547h3v20h-3zM1011 552h3v10h-3zM1014 539h3v13.5h-3zM1019 537h3v10.5h-3zM1025 552.5h3v3h-3zM1033 550h3v17h-3zM1038 575h3v4h-3zM1043 592h3v12.5h-3zM1046 586.5h3v7h-3zM1049 579h3v9h-3zM1054 585.5h3v5.5h-3zM1060 562.5h3v38.5h-3zM1065 546.5h3v18.5h-3zM1079 536.5h3v19h-3zM1081 523h3v14h-3zM1089 522h3v7h-3zM1092 495h3v36h-3zM1103 480h3v21h-3zM1106 477h3v4h-3zM1114 497h3v4.5h-3zM1119 516h3v4h-3zM1135 536h3v21.5h-3zM1141 553h3v4.5h-3zM1149 577h3v4.5h-3zM1151 568h3v10h-3zM1157 569h3v17.5h-3zM1173 597h3v14.5h-3zM1176 569.5h3v28.5h-3zM1189 600h3v16h-3zM1194 600h3v14h-3zM1200 609h3v3h-3zM1203 595h3v14.5h-3zM1206 581.3h3v14.7h-3zM1211 581.3h3v8.2h-3zM1213 596h3v6h-3zM1219 610.5h3v11.5h-3zM1227 604.5h3v34.5h-3zM1230 584.5h3v20.5h-3zM1232 574h3v10.5h-3zM1238 564.5h3v18.5h-3zM1240 544h3v16h-3zM1246 527h3v17.5h-3zM1249 520h3v8.5h-3zM1257 527h3v14h-3zM1259 510h3v18h-3zM1265 520h3v5h-3z" fill="#4040e4" fill-opacity="0.92"/><path d="M749 389h3v52.8h-3zM755 394.8h3v28.5h-3zM758 423h3v7h-3zM760 429h3v10.5h-3zM763 439h3v19.5h-3zM766 457.5h3v9.5h-3zM769 469h3v4.5h-3zM771 473h3v44h-3zM779 454h3v8h-3zM782 471h3v43h-3zM788 484h3v14.5h-3zM796 457h3v27.5h-3zM799 484h3v28h-3zM804 499h3v13h-3zM807 511h3v7h-3zM809 521h3v19.5h-3zM815 521h3v14h-3zM829 471h3v5h-3zM831 475h3v26h-3zM834 500h3v9h-3zM842 487h3v10.5h-3zM844 496h3v21h-3zM847 515.5h3v15h-3zM860 467h3v10.5h-3zM874 452h3v5h-3zM879 454h3v3h-3zM882 457h3v39h-3zM885 496h3v1.5h-3zM887 497h3v18h-3zM890 515h3v3h-3zM893 517h3v24h-3zM895 540.5h3v16h-3zM898 556h3v7h-3zM903 563.5h3v6h-3zM909 556h3v3.5h-3zM914 535h3v18h-3zM917 549h3v14.5h-3zM920 563h3v5.5h-3zM930 559h3v4.5h-3zM933 563h3v35.3h-3zM936 598h3v17.5h-3zM941 613h3v14.5h-3zM946 618h3v14h-3zM954 607h3v10h-3zM957 573h3v23h-3zM979 512h3v8.5h-3zM992 469.5h3v17.5h-3zM995 482h3v15h-3zM1000 483.5h3v20h-3zM1003 502.5h3v64.5h-3zM1008 547h3v7.5h-3zM1017 539h3v8.5h-3zM1022 537h3v16h-3zM1028 552.5h3v13.8h-3zM1030 565h3v2h-3zM1035 550h3v26.5h-3zM1041 575h3v29.5h-3zM1052 579h3v12h-3zM1057 585.5h3v15.5h-3zM1063 562.5h3v2.5h-3zM1068 546.5h3v3.5h-3zM1071 548h3v4h-3zM1073 550h3v2.5h-3zM1087 524h3v4h-3zM1095 495h3v3.5h-3zM1100 497.5h3v3.5h-3zM1108 477h3v5h-3zM1111 479h3v22.5h-3zM1116 497h3v22.5h-3zM1122 516h3v16h-3zM1124 531h3v5h-3zM1130 536h3v22h-3zM1138 536h3v21h-3zM1143 553h3v14h-3zM1146 567h3v14.5h-3zM1154 568h3v18.5h-3zM1162 568h3v11h-3zM1165 578h3v8h-3zM1168 585.5h3v24h-3zM1178 569.5h3v13.5h-3zM1181 581.5h3v20h-3zM1184 600h3v10h-3zM1186 606h3v10.5h-3zM1192 600h3v14.5h-3zM1197 600h3v7h-3zM1208 581.3h3v8.7h-3zM1216 596h3v26h-3zM1221 610h3v22h-3zM1224 631h3v17h-3zM1235 574h3v9h-3zM1251 520h3v13.5h-3zM1254 528.5h3v12.5h-3zM1262 510h3v15h-3z" fill="#f04848" fill-opacity="0.92"/><path d="M820 498h3v2h-3zM863 480.7h3v2h-3zM922 567.7h3v2h-3zM963 557.7h3v2h-3zM1076 551.5h3v2h-3zM1084 523h3v2h-3zM1097 497.5h3v2h-3zM1127 535h3v2h-3zM1133 556.5h3v2h-3zM1159 567.3h3v2h-3zM1170 608.8h3v2h-3zM1243 543h3v2h-3z" fill="#12301a"/>
</g>
<rect x="1441" y="364" width="1" height="316" fill="#555555"/>
<rect x="750" y="679" width="692" height="1" fill="#555555"/>
<g clip-path="url(#cda)">
<rect x="1442" y="368" width="3" height="1" fill="#555555"/><text x="1448.5" y="373" font-size="11" fill="#505050" text-anchor="start" stroke="#505050" stroke-width="0.3">118.000</text>
<rect x="1442" y="423" width="3" height="1" fill="#555555"/><text x="1448.5" y="428" font-size="11" fill="#505050" text-anchor="start" stroke="#505050" stroke-width="0.3">116.000</text>
<rect x="1442" y="478" width="3" height="1" fill="#555555"/><text x="1448.5" y="483" font-size="11" fill="#505050" text-anchor="start" stroke="#505050" stroke-width="0.3">114.000</text>
<rect x="1442" y="533" width="3" height="1" fill="#555555"/><text x="1448.5" y="538" font-size="11" fill="#505050" text-anchor="start" stroke="#505050" stroke-width="0.3">112.000</text>
<rect x="1442" y="588" width="3" height="1" fill="#555555"/><text x="1448.5" y="593" font-size="11" fill="#505050" text-anchor="start" stroke="#505050" stroke-width="0.3">110.000</text>
<rect x="1442" y="643" width="3" height="1" fill="#555555"/><text x="1448.5" y="648" font-size="11" fill="#505050" text-anchor="start" stroke="#505050" stroke-width="0.3">108.000</text>
<rect x="1441" y="513" width="50" height="16" fill="#0000ff"/><rect x="1441" y="520" width="3" height="1" fill="#fff"/><text x="1448.5" y="525" font-size="11" fill="#fff" font-weight="bold" text-anchor="start" textLength="38.4" lengthAdjust="spacingAndGlyphs" >112.464</text>
<rect x="1441" y="529" width="50" height="16" fill="#0000ff"/><rect x="1441" y="536" width="3" height="1" fill="#fff"/><text x="1448.5" y="541" font-size="11" fill="#fff" font-weight="bold" text-anchor="start" textLength="38.4" lengthAdjust="spacingAndGlyphs" >111.910</text>
<rect x="1441" y="560" width="50" height="16" fill="#0000ff"/><rect x="1441" y="567" width="3" height="1" fill="#fff"/><text x="1448.5" y="572" font-size="11" fill="#fff" font-weight="bold" text-anchor="start" textLength="38.4" lengthAdjust="spacingAndGlyphs" >110.760</text>
</g>
<clipPath id="cda2"><rect x="1441" y="365" width="51" height="313"/></clipPath><g clip-path="url(#cda2)">
<rect x="1441" y="668" width="51" height="16" fill="#0000ff"/><rect x="1441" y="675" width="3" height="1" fill="#fff"/><text x="1448.5" y="680" font-size="11" fill="#fff" font-weight="bold" text-anchor="start" textLength="38.4" lengthAdjust="spacingAndGlyphs" >106.810</text>
</g>
<rect x="857" y="680" width="1" height="3" fill="#555555"/>
<text x="857.5" y="693.6" font-size="11" fill="#505050" font-weight="bold" text-anchor="middle" >Mar</text>
<rect x="973" y="680" width="1" height="3" fill="#555555"/>
<text x="973.5" y="693.6" font-size="11" fill="#505050" font-weight="bold" text-anchor="middle" >May</text>
<rect x="1094" y="680" width="1" height="3" fill="#555555"/>
<text x="1094.5" y="693.6" font-size="11" fill="#505050" font-weight="bold" text-anchor="middle" >Jul</text>
<rect x="1213" y="680" width="1" height="3" fill="#555555"/>
<text x="1213.5" y="693.6" font-size="11" fill="#505050" font-weight="bold" text-anchor="middle" >Sep</text>
<rect x="1329" y="680" width="1" height="3" fill="#555555"/>
<text x="1329.5" y="693.6" font-size="11" fill="#505050" font-weight="bold" text-anchor="middle" >Nov</text>
<rect x="1404" y="680" width="1" height="3" fill="#555555"/>
<text x="1404.5" y="693.6" font-size="11" fill="#505050" text-anchor="middle" stroke="#505050" stroke-width="0.3">11</text>
<text x="759.2" y="386" font-size="12.5" fill="#555" font-weight="bold" text-anchor="start" textLength="162" lengthAdjust="spacingAndGlyphs" >U.S. Dollar/Japanese Yen, D</text>
<path d="M1349 496.5H1404 A7 7 0 0 1 1411 503.5V521.5 A7 7 0 0 1 1404 528.5H1384.5 L1376.7 534.7 L1368.5 528.5H1349 A7 7 0 0 1 1342 521.5V503.5 A7 7 0 0 1 1349 496.5 Z" fill="#ea9f9f" fill-opacity="0.48" stroke="#e67f7f" stroke-opacity="0.9" stroke-width="2" stroke-linejoin="round"/><text x="1353" y="515.6" font-size="12" fill="#2a2a2a" text-anchor="start" textLength="47" lengthAdjust="spacingAndGlyphs" >Support</text>
<path d="M1349 573H1368.5 L1376.7 567.2 L1384.5 573H1404 A7 7 0 0 1 1411 580V598.5 A7 7 0 0 1 1404 605.5H1349 A7 7 0 0 1 1342 598.5V580 A7 7 0 0 1 1349 573 Z" fill="#ea9f9f" fill-opacity="0.48" stroke="#e67f7f" stroke-opacity="0.9" stroke-width="2" stroke-linejoin="round"/><text x="1353" y="592.6" font-size="12" fill="#2a2a2a" text-anchor="start" textLength="47" lengthAdjust="spacingAndGlyphs" >Support</text>
</svg></body></html>
